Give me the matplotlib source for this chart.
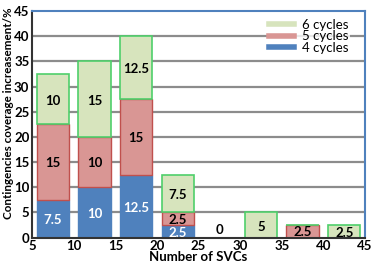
import matplotlib.pyplot as plt
from matplotlib.lines import Line2D
import numpy as np

plt.rcParams['font.family'] = ['Lato', 'DejaVu Sans']

# dados
svc_centros = [7.5, 12.5, 17.5, 22.5, 27.5, 32.5, 37.5, 42.5]
ciclos4 = [7.5, 10, 12.5, 2.5, 0, 0, 0, 0]
ciclos5 = [15, 10, 15, 2.5, 0, 0, 2.5, 0]
ciclos6 = [10, 15, 12.5, 7.5, 0, 5, 0, 2.5]
x_ticks = [5, 10, 15, 20, 25, 30, 35, 40, 45]
y_ticks = [0, 5, 10, 15, 20, 25, 30, 35, 40, 45]

fig = plt.figure(figsize=(3.74, 2.70), dpi=100)
ax = fig.add_axes([0.086, 0.12, 0.89, 0.839])

c4 = np.array(ciclos4)
c5 = np.array(ciclos5)
c6 = np.array(ciclos6)
w = 3.9

# grade horizontal
for y in y_ticks[1:-1]:
    ax.axhline(y, color='#8c8c8c', lw=1.6, zorder=0)

ax.bar(svc_centros, c4, width=w, color='#4f81bd', edgecolor='#4f81bd', lw=1, zorder=2)
ax.bar(svc_centros, c5, width=w, bottom=c4, color='#d99694', edgecolor='#c0504d', lw=1, zorder=2)
ax.bar(svc_centros, c6, width=w, bottom=c4 + c5, color='#d7e4bd', edgecolor='#4fcf6b', lw=1.2, zorder=2)

fs = 9.5

# rótulos dentro das barras
for i, x in enumerate(svc_centros):
    if c4[i] > 0:
        ax.text(x, c4[i] / 2 - 0.3, '%g' % c4[i], ha='center', va='center', color='white',
                fontsize=fs, fontweight='bold', zorder=3)
    if c5[i] > 0:
        ax.text(x, c4[i] + c5[i] / 2 - 0.2, '%g' % c5[i], ha='center', va='center', color='black',
                fontsize=fs, fontweight='bold', zorder=3)
    if c6[i] > 0:
        ax.text(x, c4[i] + c5[i] + c6[i] / 2 - 0.3, '%g' % c6[i], ha='center', va='center', color='black',
                fontsize=fs, fontweight='bold', zorder=3)
    if c4[i] + c5[i] + c6[i] == 0:
        ax.text(x, 1.5, '0', ha='center', va='center', color='black',
                fontsize=fs, fontweight='bold', zorder=3)

ax.set_xlim(5, 45)
ax.set_ylim(0, 45)
ax.set_xticks(x_ticks)
ax.set_yticks(y_ticks)
ax.tick_params(length=0, labelsize=fs, pad=2)
for lab in ax.get_xticklabels() + ax.get_yticklabels():
    lab.set_fontweight('bold')

for s in ['left', 'bottom']:
    ax.spines[s].set_color('#333333')
    ax.spines[s].set_linewidth(1.5)
for s in ['top', 'right']:
    ax.spines[s].set_color('#4f81bd')
    ax.spines[s].set_linewidth(1.5)

ax.set_xlabel('Number of SVCs', fontsize=fs, fontweight='bold', labelpad=-1)
ax.set_ylabel('Contingencies coverage increasement/%', fontsize=8.4, fontweight='bold', labelpad=0)
ax.yaxis.set_label_coords(-0.056, 0.55)

handles = [Line2D([0], [0], color='#d7e4bd', lw=4),
           Line2D([0], [0], color='#d99694', lw=4),
           Line2D([0], [0], color='#4f81bd', lw=4)]
leg = ax.legend(handles, ['6 cycles', '5 cycles', '4 cycles'], loc='upper right',
                bbox_to_anchor=(0.975, 1.0), fontsize=fs, frameon=True, handlelength=1.9,
                labelspacing=-0.05, borderpad=0.1, handletextpad=0.6, fancybox=False)
leg.get_frame().set_edgecolor('white')
leg.get_frame().set_linewidth(0)
leg.set_zorder(5)

fig.savefig('out.png', dpi=100)
